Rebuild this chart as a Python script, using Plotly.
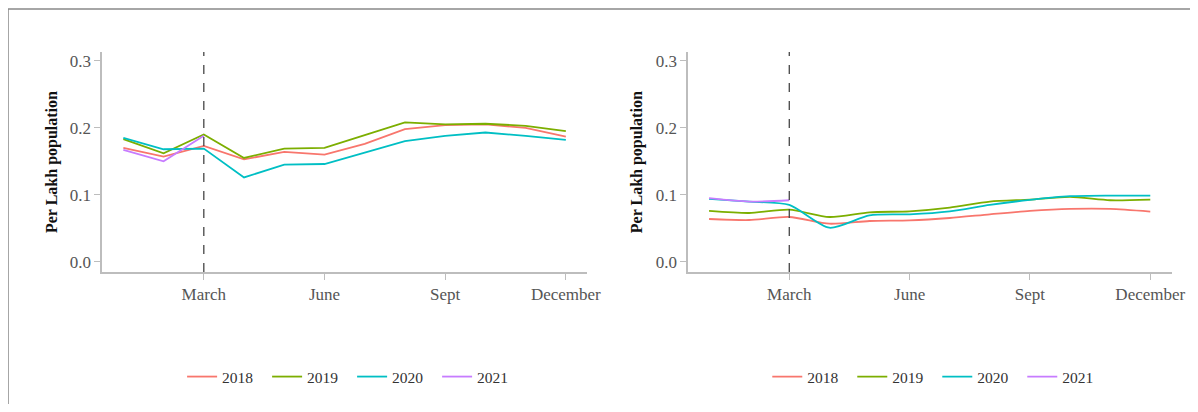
import plotly.graph_objects as go

months = list(range(1, 13))
tick_vals = [3, 6, 9, 12]
tick_text = ["March", "June", "Sept", "December"]
y_ticks = [0.0, 0.1, 0.2, 0.3]
years = ["2018", "2019", "2020", "2021"]
colors = ["#F8766D", "#7CAE00", "#00BFC4", "#C77CFF"]

# Left panel
left_2018 = [0.170, 0.157, 0.173, 0.153, 0.164, 0.160, 0.176, 0.198, 0.204, 0.205, 0.200, 0.187]
left_2019 = [0.183, 0.162, 0.190, 0.155, 0.169, 0.170, 0.189, 0.208, 0.205, 0.206, 0.203, 0.195]
left_2020 = [0.185, 0.168, 0.169, 0.126, 0.145, 0.146, 0.163, 0.180, 0.188, 0.193, 0.188, 0.182]
left_2021 = [0.167, 0.150, 0.188]

# Right panel
right_2018 = [0.064, 0.0625, 0.067, 0.057, 0.061, 0.062, 0.0655, 0.071, 0.076, 0.079, 0.079, 0.075]
right_2019 = [0.076, 0.073, 0.078, 0.067, 0.074, 0.0755, 0.081, 0.090, 0.093, 0.097, 0.092, 0.093]
right_2020 = [0.094, 0.090, 0.085, 0.051, 0.0695, 0.071, 0.0755, 0.085, 0.0925, 0.098, 0.099, 0.099]
right_2021 = [0.095, 0.090, 0.092]

OFF = 8        # page body margin offset
SX = 0.988     # observed horizontal scale of the rendered page
W = int(round((1198 - 2 * OFF) / SX))
H = 412 - 2 * OFF
SERIF = "Liberation Serif, Times New Roman, serif"

fig = go.Figure()

left_series = [left_2018, left_2019, left_2020, left_2021]
right_series = [right_2018, right_2019, right_2020, right_2021]

for yr, col, vals in zip(years, colors, left_series):
    fig.add_trace(go.Scatter(x=months[:len(vals)], y=vals, mode="lines", name=yr,
                             line=dict(color=col, width=1.8), xaxis="x", yaxis="y",
                             legend="legend"))
for yr, col, vals in zip(years, colors, right_series):
    fig.add_trace(go.Scatter(x=months[:len(vals)], y=vals, mode="lines", name=yr,
                             line=dict(color=col, width=1.8, shape="spline", smoothing=0.7),
                             xaxis="x2", yaxis="y2", legend="legend2"))

def px_x(p):
    return (p - OFF) / SX / W

def px_y(p):
    return 1 - (p - OFF) / H

ydom = [px_y(272), px_y(52)]

axis_common = dict(showline=True, linecolor="#bdbdbd", linewidth=1.5, ticks="outside",
                   ticklen=6, tickcolor="#bdbdbd", tickwidth=1.2, showgrid=False, zeroline=False,
                   tickfont=dict(family=SERIF, size=17, color="#555555"))

legend_common = dict(orientation="h", yanchor="middle", entrywidth=40, entrywidthmode="pixels",
                     font=dict(family=SERIF, size=15.5, color="#333333"), bgcolor="rgba(0,0,0,0)")

fig.update_layout(
    width=W, height=H,
    margin=dict(l=0, r=0, t=0, b=0),
    paper_bgcolor="white", plot_bgcolor="white",
    xaxis=dict(domain=[px_x(102), px_x(587)], range=[0.47, 12.53], tickvals=tick_vals,
               ticktext=tick_text, anchor="y", **axis_common),
    yaxis=dict(domain=ydom, range=[-0.015, 0.313], tickvals=y_ticks, tickformat=".1f",
               anchor="x", **axis_common),
    xaxis2=dict(domain=[px_x(688), px_x(1172)], range=[0.48, 12.55], tickvals=tick_vals,
                ticktext=tick_text, anchor="y2", **axis_common),
    yaxis2=dict(domain=ydom, range=[-0.015, 0.313], tickvals=y_ticks, tickformat=".1f",
                anchor="x2", **axis_common),
    legend=dict(x=px_x(352), xanchor="center", y=px_y(377), **legend_common),
    legend2=dict(x=px_x(937), xanchor="center", y=px_y(377), **legend_common),
)

# March reference lines
for xr, yr in [("x", "y domain"), ("x2", "y2 domain")]:
    fig.add_shape(type="line", xref=xr, yref=yr, x0=3, x1=3, y0=0, y1=1,
                  line=dict(color="#444444", width=1.3, dash="dash"))

# Y axis titles
for xc in [52, 637]:
    fig.add_annotation(text="<b>Per Lakh population</b>", xref="paper", yref="paper",
                       x=px_x(xc), y=px_y(162), showarrow=False, textangle=-90,
                       xanchor="center", yanchor="middle",
                       font=dict(family=SERIF, size=16, color="#111111"))

# Outer frame (top and left edges)
fig.add_shape(type="line", xref="paper", yref="paper", x0=px_x(8), x1=1, y0=px_y(9), y1=px_y(9),
              line=dict(color="#888888", width=1.5))
fig.add_shape(type="line", xref="paper", yref="paper", x0=px_x(8), x1=px_x(8), y0=px_y(9), y1=0,
              line=dict(color="#888888", width=1.5))

fig.write_html("out.html")
